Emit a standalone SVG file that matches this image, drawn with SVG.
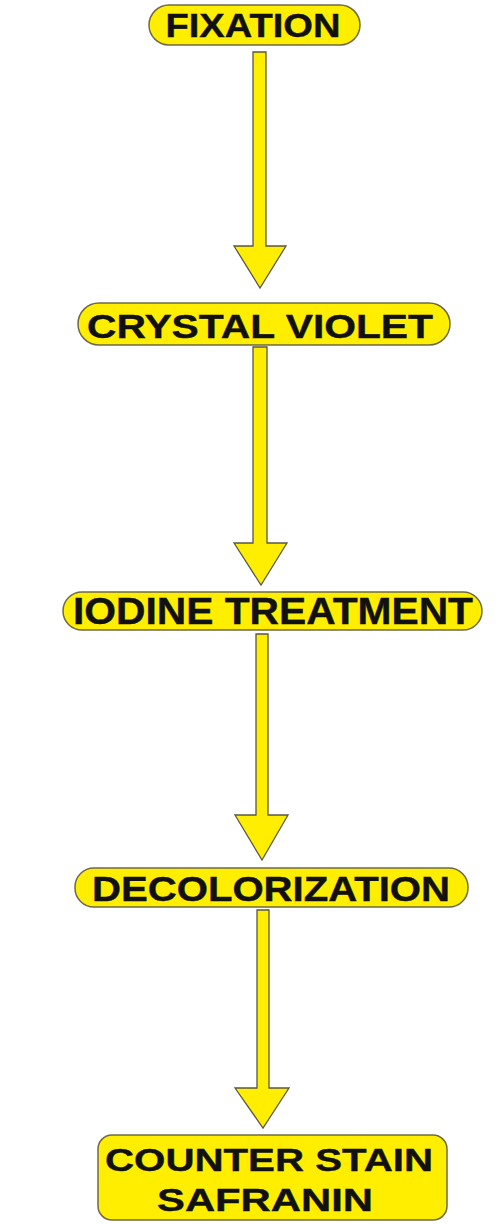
<svg xmlns="http://www.w3.org/2000/svg" width="504" height="1224" viewBox="0 0 504 1224">
<style>
.box{fill:#FFEE00;stroke:#6e6a45;stroke-width:1.5}
.arr{fill:#FFEE00;stroke:#5a5740;stroke-width:1.3;stroke-linejoin:miter}
.t{font-family:"Liberation Sans",Arial,sans-serif;font-weight:bold;fill:#111;text-anchor:middle;stroke:#111;stroke-width:0.4}
</style>
<rect width="504" height="1224" fill="#ffffff"/>
<g id="connectors">
<polygon class="arr" points="253,52 266,52 266,246 286,246 260,288 234,246 253,246"/>
<polygon class="arr" points="253,347 267,347 267,543 287,543 261,585 234,543 253,543"/>
<polygon class="arr" points="256,634 268,634 268,815 288,815 262,860 235,815 256,815"/>
<polygon class="arr" points="257,910 269,910 269,1088 289,1088 263,1128 235,1088 257,1088"/>
</g>
<g id="fixation">
<rect class="box" x="149" y="5" width="211" height="40" rx="20" ry="20"/>
<text class="t" x="253" y="37" font-size="33" textLength="175" lengthAdjust="spacingAndGlyphs">FIXATION</text>
</g>
<g id="crystal-violet">
<rect class="box" x="78" y="303" width="372" height="42" rx="21" ry="21"/>
<text class="t" x="260" y="337.5" font-size="34" textLength="346" lengthAdjust="spacingAndGlyphs">CRYSTAL VIOLET</text>
</g>
<g id="iodine-treatment">
<rect class="box" x="63" y="592" width="419" height="38" rx="19" ry="19"/>
<text class="t" x="273" y="623.5" font-size="36" textLength="400" lengthAdjust="spacingAndGlyphs">IODINE TREATMENT</text>
</g>
<g id="decolorization">
<rect class="box" x="75" y="868" width="393" height="39" rx="19" ry="19"/>
<text class="t" x="271" y="900.5" font-size="35" textLength="358" lengthAdjust="spacingAndGlyphs">DECOLORIZATION</text>
</g>
<g id="counter-stain">
<rect class="box" x="98" y="1135" width="349" height="85" rx="14" ry="14"/>
<text class="t" x="269" y="1170.5" font-size="32" textLength="328" lengthAdjust="spacingAndGlyphs">COUNTER STAIN</text>
<text class="t" x="265" y="1210.5" font-size="32" textLength="216" lengthAdjust="spacingAndGlyphs">SAFRANIN</text>
</g>
</svg>
